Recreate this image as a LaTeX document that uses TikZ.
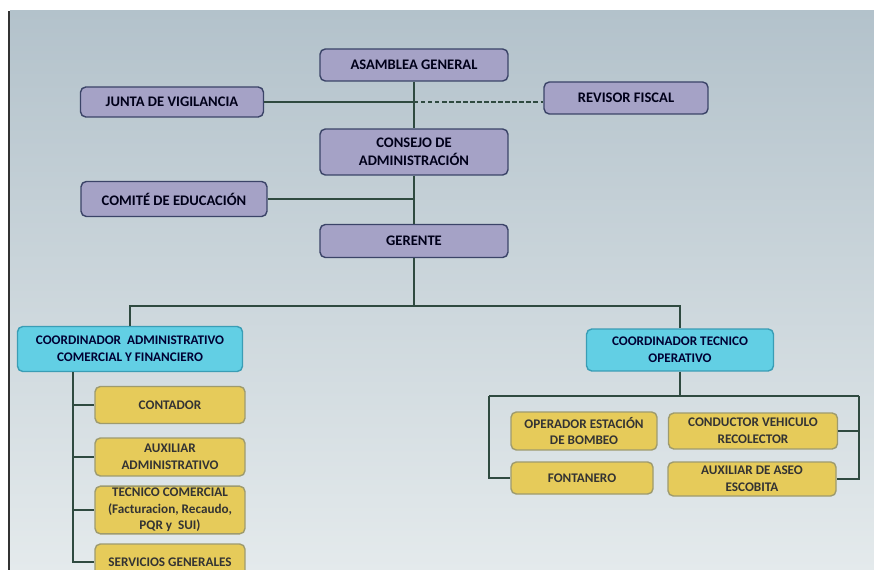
\documentclass[tikz,border=0pt]{standalone}
\usepackage{fontspec}
\setmainfont{Carlito}
\usetikzlibrary{positioning}

\definecolor{fondoarriba}{HTML}{B3C2CB}
\definecolor{fondoabajo}{HTML}{E4EAEC}
\definecolor{lila}{HTML}{A5A2C6}
\definecolor{lilaborde}{HTML}{3B4468}
\definecolor{celeste}{HTML}{62CFE4}
\definecolor{celesteborde}{HTML}{3A9DB5}
\definecolor{amarillo}{HTML}{E6CB5A}
\definecolor{amarilloborde}{HTML}{9E9B6E}
\definecolor{linea}{HTML}{2F4A40}

\tikzset{
  caja/.style={draw, rounded corners=3pt, line width=0.8pt, align=center,
    inner sep=1pt, font=\fontsize{7.5}{9.5}\selectfont\bfseries},
  directivo/.style={caja, fill=lila, draw=lilaborde, text=black!90!blue,
    font=\fontsize{8.3}{10.3}\selectfont\bfseries},
  coordina/.style={caja, fill=celeste, draw=celesteborde, text=black!80!blue},
  cargo/.style={caja, fill=amarillo, draw=amarilloborde, text=black!80},
  enlace/.style={draw=linea, line width=0.9pt}
}

\begin{document}
\begin{tikzpicture}[x=0.02cm, y=-0.02cm]
	\clip (0,0) rectangle (874,570);
	\fill[white] (0,0) rectangle (874,570);
	\shade[top color=fondoarriba, bottom color=fondoabajo] (10,11) rectangle (874,570);
	\fill[black!80] (8,11) rectangle (10,570);

	% organos de direccion
	\node[directivo, minimum width=3.76cm, minimum height=0.64cm] (asamblea) at (414,65) {ASAMBLEA GENERAL};
	\node[directivo, minimum width=3.66cm, minimum height=0.6cm] (junta) at (172,102) {JUNTA DE VIGILANCIA};
	\node[directivo, minimum width=3.28cm, minimum height=0.64cm] (revisor) at (626,98) {REVISOR FISCAL};
	\node[directivo, minimum width=3.76cm, minimum height=0.92cm] (consejo) at (414,152) {CONSEJO DE\\ADMINISTRACIÓN};
	\node[directivo, minimum width=3.72cm, minimum height=0.7cm] (comite) at (174,199) {COMITÉ DE EDUCACIÓN};
	\node[directivo, minimum width=3.76cm, minimum height=0.66cm] (gerente) at (414,241) {GERENTE};

	% coordinaciones
	\node[coordina, minimum width=4.5cm, minimum height=0.9cm] (coordadm) at (130,349) {COORDINADOR\ \ ADMINISTRATIVO\\COMERCIAL Y FINANCIERO};
	\node[coordina, minimum width=3.74cm, minimum height=0.84cm] (coordtec) at (680,350) {COORDINADOR TECNICO\\OPERATIVO};

	% cargos area administrativa
	\node[cargo, minimum width=3cm, minimum height=0.74cm] (contador) at (170,405) {CONTADOR};
	\node[cargo, minimum width=3cm, minimum height=0.76cm] (auxadm) at (170,457) {AUXILIAR\\ADMINISTRATIVO};
	\node[cargo, minimum width=3cm, minimum height=0.88cm] (tecnico) at (170,510) {TECNICO COMERCIAL\\(Facturacion, Recaudo,\\PQR y\ \ SUI)};
	\node[cargo, minimum width=3cm, minimum height=0.72cm] (servicios) at (170,562) {SERVICIOS GENERALES};

	% cargos area tecnica
	\node[cargo, minimum width=2.92cm, minimum height=0.76cm] (operador) at (584,431) {OPERADOR ESTACIÓN\\DE BOMBEO};
	\node[cargo, minimum width=3.38cm, minimum height=0.72cm] (conductor) at (753,431) {CONDUCTOR VEHICULO\\RECOLECTOR};
	\node[cargo, minimum width=2.84cm, minimum height=0.64cm] (fontanero) at (582,478) {FONTANERO};
	\node[cargo, minimum width=3.36cm, minimum height=0.68cm] (auxaseo) at (752,479) {AUXILIAR DE ASEO\\ESCOBITA};

	\coordinate (bus) at (414,306);
	\coordinate (espina) at (73,372);
	\coordinate (rizq) at (489,396);
	\coordinate (rder) at (859,396);

	\draw[enlace] (asamblea) -- (consejo);
	\draw[enlace] (junta.east) -- (junta.east -| asamblea.south);
	\draw[enlace, dash pattern=on 2.5pt off 1.5pt] (junta.east -| asamblea.south) -- (revisor.west |- junta.east);
	\draw[enlace] (consejo) -- (gerente);
	\draw[enlace] (comite.east) -- (comite.east -| consejo.south);

	\draw[enlace] (gerente.south) -- (bus);
	\draw[enlace] (coordadm.north) |- (bus) -| (coordtec.north);

	\draw[enlace] (espina) |- (contador.west);
	\draw[enlace] (espina) |- (auxadm.west);
	\draw[enlace] (espina) |- (tecnico.west);
	\draw[enlace] (espina) |- (servicios.west);

	\draw[enlace] (coordtec.south) -- (coordtec.south |- rizq);
	\draw[enlace] (rizq) -- (rder);
	\draw[enlace] (rizq) |- (fontanero.west);
	\draw[enlace] (rder) |- (auxaseo.east);
	\draw[enlace] (rder |- conductor.east) -- (conductor.east);
\end{tikzpicture}
\end{document}
